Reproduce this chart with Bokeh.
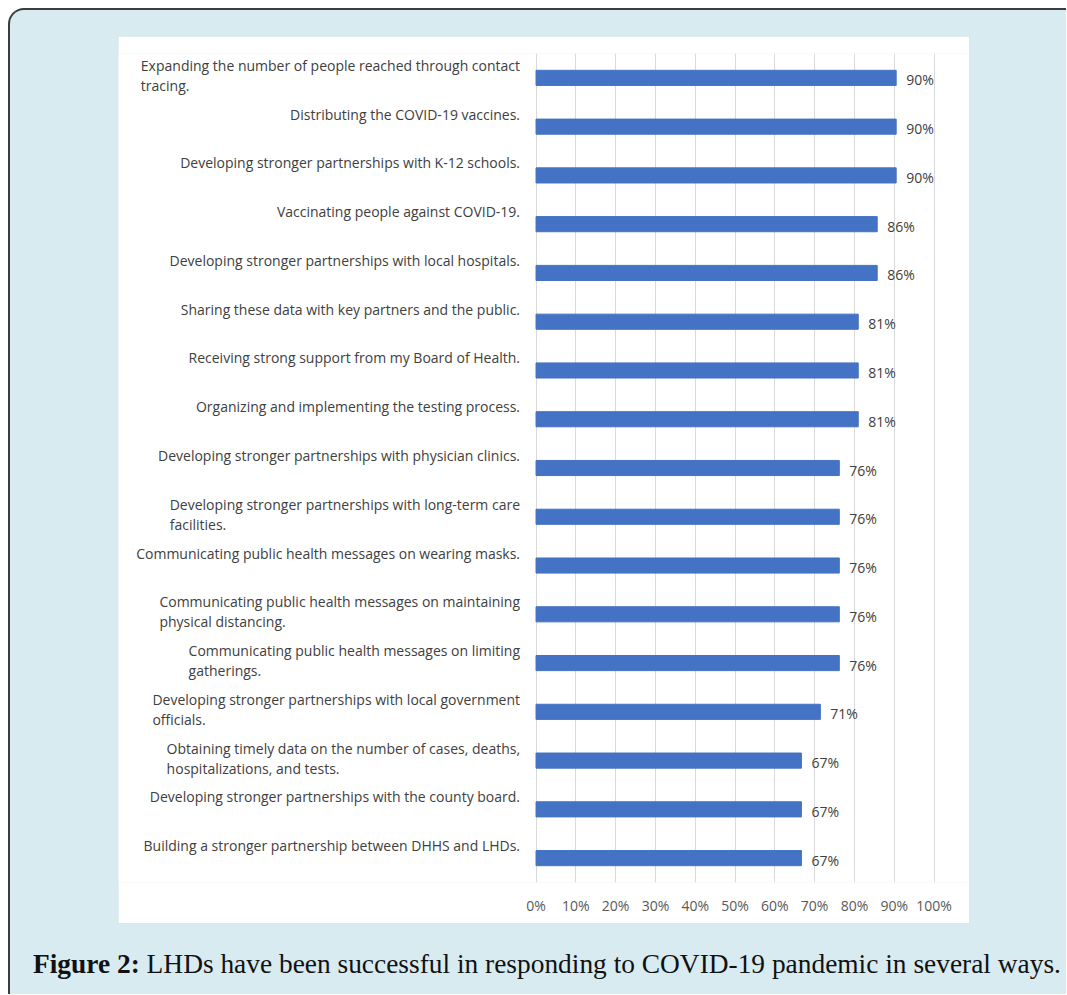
from bokeh.plotting import figure
from bokeh.models import FactorRange, Range1d, FixedTicker, Div, ColumnDataSource
from bokeh.layouts import column
from bokeh.core.properties import value
from bokeh.embed import file_html
from bokeh.resources import INLINE

categories = [
    "Expanding the number of people reached through contact\ntracing.",
    "Distributing the COVID-19 vaccines.",
    "Developing stronger partnerships with K-12 schools.",
    "Vaccinating people against COVID-19.",
    "Developing stronger partnerships with local hospitals.",
    "Sharing these data with key partners and the public.",
    "Receiving strong support from my Board of Health.",
    "Organizing and implementing the testing process.",
    "Developing stronger partnerships with physician clinics.",
    "Developing stronger partnerships with long-term care\nfacilities.",
    "Communicating public health messages on wearing masks.",
    "Communicating public health messages on maintaining\nphysical distancing.",
    "Communicating public health messages on limiting\ngatherings.",
    "Developing stronger partnerships with local government\nofficials.",
    "Obtaining timely data on the number of cases, deaths,\nhospitalizations, and tests.",
    "Developing stronger partnerships with the county board.",
    "Building a stronger partnership between DHHS and LHDs.",
]
values = [90.48, 90.48, 90.48, 85.71, 85.71, 80.95, 80.95, 80.95,
          76.19, 76.19, 76.19, 76.19, 76.19, 71.43, 66.67, 66.67, 66.67]
value_labels = ["90%", "90%", "90%", "86%", "86%", "81%", "81%", "81%",
                "76%", "76%", "76%", "76%", "76%", "71%", "67%", "67%", "67%"]
x_ticks = [0, 10, 20, 30, 40, 50, 60, 70, 80, 90, 100]
x_tick_labels = ["0%", "10%", "20%", "30%", "40%", "50%", "60%", "70%", "80%", "90%", "100%"]

src = ColumnDataSource(dict(cat=categories, val=values, lab=value_labels,
                            zero=[0] * len(categories)))

p = figure(width=851, height=887, output_backend="svg", toolbar_location=None,
           y_range=FactorRange(*reversed(categories), range_padding=0),
           x_range=Range1d(-104.9, 108.9),
           min_border_left=0, min_border_right=0, min_border_top=17,
           min_border_bottom=41)
p.background_fill_color = "white"
p.border_fill_color = "white"
p.outline_line_color = None
p.margin = (26, 0, 0, 108)
p.styles = {"box-shadow": "0 0 0 1px #e4e4e4"}

p.hbar(y="cat", left=0, right="val", height=0.31, color="#4472C4", source=src)

font = value("Open Sans")
p.text(x="zero", y="cat", text="cat", source=src, x_offset=-16, y_offset=-22,
       anchor="top_right", text_align="left", text_baseline="top", text_font=font,
       text_font_size="14px", text_color="#404040", text_line_height=1.05)
p.text(x="val", y="cat", text="lab", source=src, x_offset=10, y_offset=2,
       text_align="left", text_baseline="middle", text_font=font,
       text_font_size="14px", text_color="#404040")

p.yaxis.visible = False
p.ygrid.grid_line_color = None
p.xaxis.ticker = FixedTicker(ticks=x_ticks)
p.xaxis.major_label_overrides = dict(zip(x_ticks, x_tick_labels))
p.xaxis.axis_line_color = None
p.xaxis.major_tick_line_color = None
p.xaxis.minor_tick_line_color = None
p.xaxis.major_label_standoff = 7
p.xaxis.major_label_text_font = "Open Sans"
p.xaxis.major_label_text_font_size = "14px"
p.xaxis.major_label_text_color = "#595959"
p.xgrid.ticker = FixedTicker(ticks=x_ticks)
p.xgrid.grid_line_color = "#d9d9d9"

cap = Div(text="<b>Figure 2:</b> LHDs have been successful in responding to COVID-19 pandemic in several ways.",
          width=1040, height=40, margin=(22, 0, 0, 23),
          styles={"font-family": "Liberation Serif", "font-size": "27.4px",
                  "color": "#111111", "white-space": "nowrap"})

layout = column(p, cap, width=1058, height=986, margin=(8, 0, 0, 8),
                styles={"background-color": "#d8ebf1",
                        "border-top": "2px solid #3c3c3c",
                        "border-left": "2px solid #3c3c3c",
                        "border-top-left-radius": "16px",
                        "box-sizing": "border-box"})

open("out.html", "w").write(file_html(layout, INLINE))
